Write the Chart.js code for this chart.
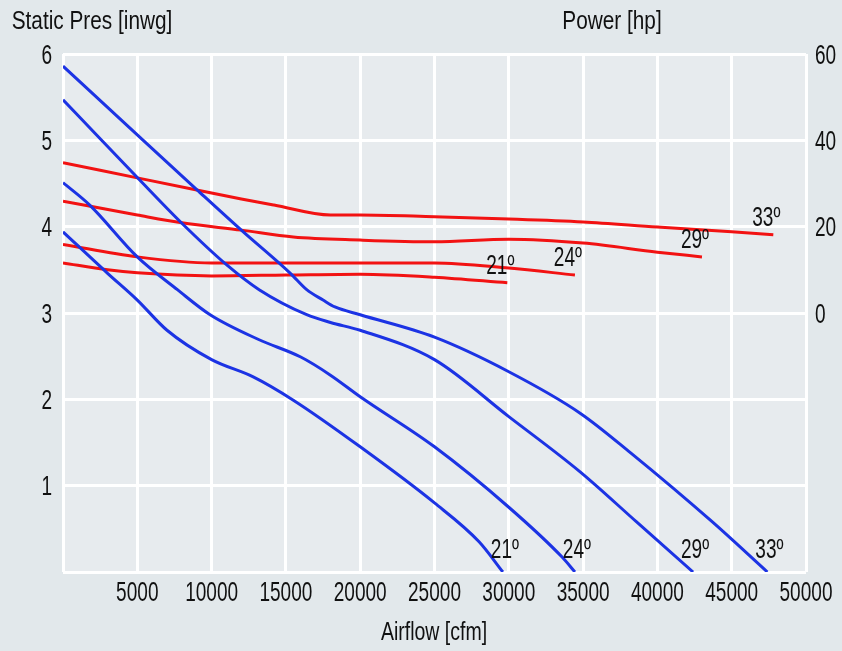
<!DOCTYPE html>
<html>
<head>
<meta charset="utf-8">
<script src="https://cdn.jsdelivr.net/npm/chart.js@4.4.1/dist/chart.umd.min.js"></script>
<style>
  body { margin: 0; background: #e2e8eb; }
  canvas { display: block; }
</style>
</head>
<body>
<canvas id="fan-chart" width="842" height="651"></canvas>
<script>
// blade angles
const angles = ['21º', '24º', '29º', '33º'];

// static pressure curves [inwg] vs airflow [cfm]
const presX21 = [0, 3000, 5000, 7000, 10000, 12800, 15500, 20000, 25000, 28000, 29600];
const pres21  = [3.94, 3.46, 3.15, 2.80, 2.46, 2.26, 1.99, 1.45, 0.80, 0.35, 0];
const presX24 = [0, 1800, 5000, 7700, 9900, 13200, 16000, 18000, 20000, 25000, 30000, 33600, 34450];
const pres24  = [4.51, 4.25, 3.65, 3.27, 2.98, 2.69, 2.49, 2.28, 2.03, 1.45, 0.75, 0.17, 0];
const presX29 = [0, 2600, 5000, 8000, 11000, 13200, 16400, 18000, 20000, 25000, 30000, 34800, 38600, 42400];
const pres29  = [5.47, 5.0, 4.57, 4.04, 3.56, 3.27, 2.98, 2.89, 2.80, 2.46, 1.80, 1.16, 0.58, 0];
const presX33 = [0, 5400, 9000, 12000, 15300, 16400, 17500, 18300, 20000, 25000, 30000, 34800, 38200, 43700, 47400];
const pres33  = [5.86, 5.0, 4.43, 3.96, 3.46, 3.27, 3.15, 3.07, 2.98, 2.72, 2.32, 1.84, 1.38, 0.58, 0];

// power curves [hp] vs airflow [cfm]
const powX21 = [0, 3000, 5000, 10000, 15000, 20000, 25000, 29900];
const pow21  = [11.6, 10.0, 9.3, 8.6, 8.8, 9.0, 8.3, 7.0];
const powX24 = [0, 5000, 10000, 15000, 20000, 25000, 30000, 34450];
const pow24  = [15.9, 13.0, 11.6, 11.6, 11.6, 11.6, 10.4, 8.8];
const powX29 = [0, 5000, 8000, 12000, 15500, 20000, 25000, 30000, 35000, 40000, 43000];
const pow29  = [25.9, 22.7, 20.9, 19.2, 17.6, 16.9, 16.5, 17.1, 16.2, 14.1, 13.0];
const powX33 = [0, 5000, 9000, 12000, 14200, 18000, 20000, 25000, 30000, 35000, 40000, 45000, 47800];
const pow33  = [34.8, 31.3, 28.5, 26.4, 25.0, 22.7, 22.7, 22.3, 21.8, 21.1, 19.9, 18.8, 18.1];

const presSeries = [[presX21, pres21], [presX24, pres24], [presX29, pres29], [presX33, pres33]];
const powSeries  = [[powX21, pow21], [powX24, pow24], [powX29, pow29], [powX33, pow33]];

const FONT = "'Liberation Sans', Arial, sans-serif";
const BLUE = '#1c33e4';
const RED = '#f21212';

const toPoints = (xs, ys) => xs.map((x, i) => ({ x: x, y: ys[i] }));

const datasets = [];
presSeries.forEach(([xs, ys], i) => datasets.push({
  label: 'pres ' + angles[i], kind: 'pres', angle: angles[i],
  data: toPoints(xs, ys), yAxisID: 'y',
  borderColor: BLUE, borderWidth: 3, pointRadius: 0,
  cubicInterpolationMode: 'monotone'
}));
powSeries.forEach(([xs, ys], i) => datasets.push({
  label: 'power ' + angles[i], kind: 'pow', angle: angles[i],
  data: toPoints(xs, ys), yAxisID: 'y2',
  borderColor: RED, borderWidth: 3, pointRadius: 0,
  cubicInterpolationMode: 'monotone'
}));

// the reference uses a tall condensed face, so squeeze text horizontally
function narrowText(ctx, text, x, y, size, sx) {
  ctx.save();
  ctx.font = size + 'px ' + FONT;
  ctx.translate(x, y);
  ctx.scale(sx, 1);
  ctx.fillText(text, 0, 0);
  ctx.restore();
}

const tickText = (axisId, v) => {
  if (axisId === 'y2') return v < 0 ? '' : String(v);
  return v === 0 ? '' : String(v);
};

const decor = {
  id: 'decor',
  beforeDraw(chart) {
    const { ctx, chartArea: a } = chart;
    ctx.save();
    ctx.fillStyle = '#e2e8eb';
    ctx.fillRect(0, 0, chart.width, chart.height);
    ctx.fillStyle = '#e7ebee';
    ctx.fillRect(a.left, a.top, a.right - a.left, a.bottom - a.top);
    ctx.restore();
  },
  afterDatasetsDraw(chart) {
    const { ctx, scales, chartArea: a } = chart;
    ctx.save();
    ctx.fillStyle = '#111';
    ctx.textBaseline = 'middle';

    // tick labels, placed from the library's scales
    ctx.textAlign = 'center';
    scales.x.ticks.forEach(t => {
      const s = tickText('x', t.value);
      if (s) narrowText(ctx, s, scales.x.getPixelForValue(t.value), a.bottom + 21, 28, 0.68);
    });
    ctx.textAlign = 'right';
    scales.y.ticks.forEach(t => {
      const s = tickText('y', t.value);
      if (s) narrowText(ctx, s, a.left - 11, scales.y.getPixelForValue(t.value) + 2, 28, 0.68);
    });
    ctx.textAlign = 'left';
    scales.y2.ticks.forEach(t => {
      const s = tickText('y2', t.value);
      if (s) narrowText(ctx, s, a.right + 9, scales.y2.getPixelForValue(t.value) + 2, 28, 0.68);
    });

    // curve end labels
    ctx.textAlign = 'center';
    chart.data.datasets.forEach(ds => {
      const last = ds.data[ds.data.length - 1];
      const px = scales.x.getPixelForValue(last.x);
      if (ds.kind === 'pres') {
        narrowText(ctx, ds.angle, px + 2, scales.y.getPixelForValue(0) - 22, 28, 0.68);
      } else {
        narrowText(ctx, ds.angle, px - 7, scales.y2.getPixelForValue(last.y) - 17, 28, 0.68);
      }
    });

    // axis titles
    narrowText(ctx, 'Static Pres [inwg]', 92, 22, 26, 0.8);
    narrowText(ctx, 'Power [hp]', 612, 22, 26, 0.8);
    narrowText(ctx, 'Airflow [cfm]', 434, 633, 26, 0.75);
    ctx.restore();
  }
};

new Chart(document.getElementById('fan-chart'), {
  type: 'line',
  data: { datasets: datasets },
  options: {
    responsive: false,
    animation: false,
    layout: { padding: { top: 54, left: 0, right: 0, bottom: 0 } },
    plugins: { legend: { display: false }, tooltip: { enabled: false } },
    scales: {
      x: {
        type: 'linear', min: 0, max: 50000,
        afterFit: s => { s.height = 79; },
        grid: { color: '#ffffff', lineWidth: 3, drawTicks: false },
        border: { display: false },
        ticks: { stepSize: 5000, display: false, autoSkip: false, maxRotation: 0 }
      },
      y: {
        position: 'left', min: 0, max: 6,
        afterFit: s => { s.width = 63; },
        grid: { color: '#ffffff', lineWidth: 3, drawTicks: false },
        border: { display: false },
        ticks: { stepSize: 1, display: false }
      },
      y2: {
        position: 'right', min: -60, max: 60,
        afterFit: s => { s.width = 36; },
        grid: { display: false, drawTicks: false },
        border: { display: false },
        ticks: { stepSize: 20, display: false }
      }
    }
  },
  plugins: [decor]
});
</script>
</body>
</html>
